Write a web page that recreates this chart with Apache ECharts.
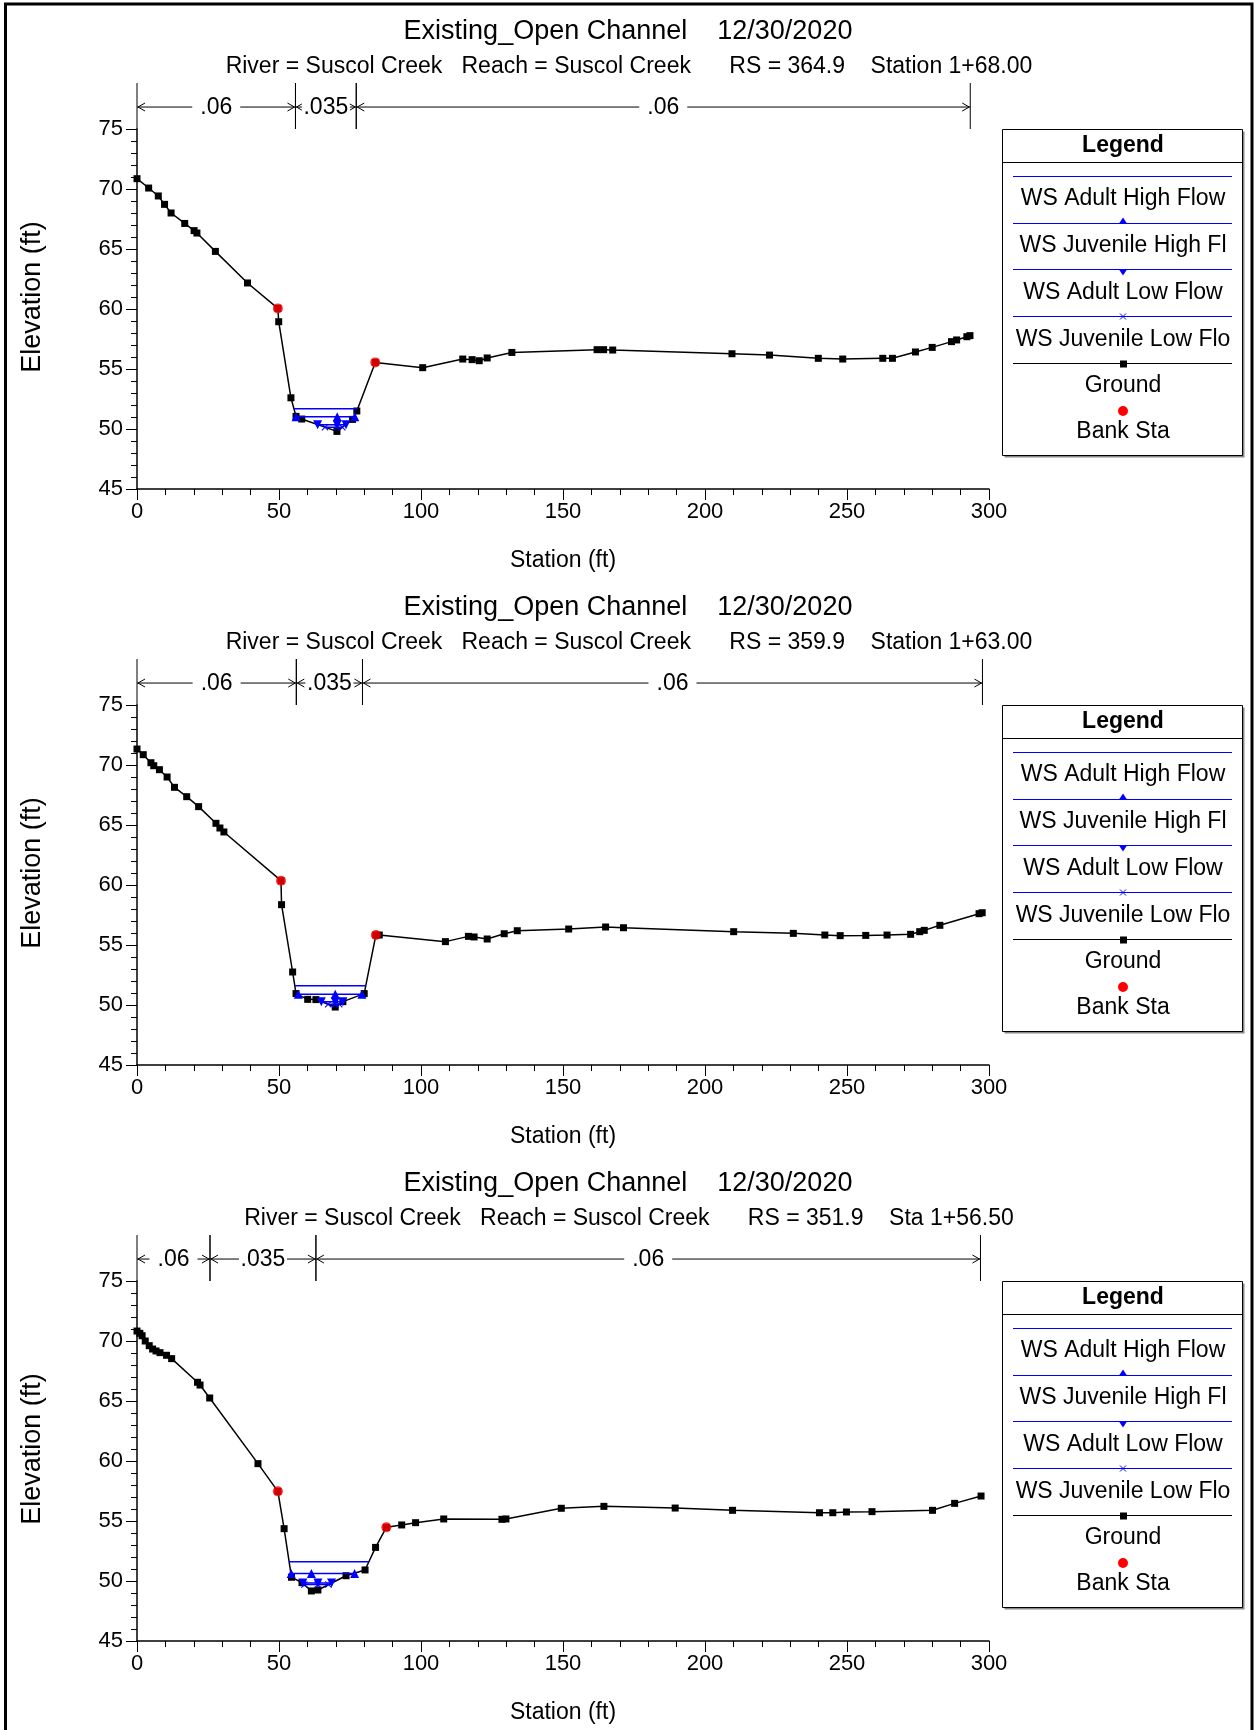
<!DOCTYPE html>
<html>
<head>
<meta charset="utf-8">
<script src="https://cdn.jsdelivr.net/npm/echarts@6/dist/echarts.min.js"></script>
<style>
html,body{margin:0;padding:0;background:#fff;}
#chart{width:1255px;height:1730px;}
</style>
</head>
<body>
<div id="chart"></div>
<script>
var mainTitle = 'Existing_Open Channel    12/30/2020';
var subTitles = [
	'River = Suscol Creek   Reach = Suscol Creek      RS = 364.9    Station 1+68.00',
	'River = Suscol Creek   Reach = Suscol Creek      RS = 359.9    Station 1+63.00',
	'River = Suscol Creek   Reach = Suscol Creek      RS = 351.9    Sta 1+56.50'
];
var legendNames = ['WS Adult High Flow', 'WS Juvenile High Fl', 'WS Adult Low Flow', 'WS Juvenile Low Flo', 'Ground', 'Bank Sta'];

//RS 364.9
var ground1 = [[0,70.86],[4.1,70.08],[7.5,69.42],[9.7,68.72],[12.0,68.0],[16.8,67.13],[20.1,66.53],[21.1,66.33],[27.6,64.8],[38.9,62.17],[49.6,60.05],[49.9,58.94],[54.2,52.6],[56.0,51.05],[58.0,50.83],[70.4,49.8],[75.9,50.8],[77.4,51.5],[83.9,55.55],[100.6,55.11],[114.7,55.83],[118.0,55.78],[120.5,55.69],[123.3,55.92],[132.0,56.38],[162.0,56.61],[164.3,56.61],[167.5,56.58],[209.5,56.27],[222.7,56.16],[239.9,55.89],[248.5,55.83],[262.6,55.89],[266.0,55.89],[274.1,56.42],[280.0,56.8],[286.8,57.28],[288.6,57.42],[292.2,57.69],[293.3,57.78]];
var adultHigh1 = [[55.3,51.69],[77.6,51.69]];
var juvHigh1 = [[56.0,51.02],[70.5,51.02],[76.7,51.02]];
var adultLow1 = [[63.6,50.35],[70.5,50.35],[73.6,50.35]];
var juvLow1 = [[66.2,50.15],[70.4,50.15],[72.3,50.15]];
var bank1 = [[49.6,60.05],[83.9,55.55]];
var nBreaks1 = [0, 55.8, 77.2, 293.4];

//RS 359.9
var ground2 = [[0,71.33],[2.2,70.86],[4.9,70.19],[5.9,69.94],[7.9,69.61],[10.6,69.0],[13.2,68.14],[17.5,67.36],[21.7,66.53],[27.8,65.14],[29.2,64.75],[30.6,64.42],[50.7,60.36],[50.9,58.36],[54.8,52.75],[56.0,50.95],[60.1,50.47],[63.0,50.45],[69.8,49.83],[72.5,50.28],[80.0,50.95],[84.1,55.83],[85.3,55.83],[108.6,55.28],[116.7,55.72],[118.7,55.67],[123.3,55.5],[129.3,55.94],[133.9,56.19],[152.0,56.33],[165.0,56.5],[171.3,56.44],[210.1,56.11],[231.1,55.97],[242.2,55.83],[247.6,55.78],[256.6,55.8],[264.1,55.83],[272.4,55.89],[275.6,56.11],[277.2,56.22],[282.7,56.64],[296.5,57.61],[297.6,57.69]];
var adultHigh2 = [[55.6,51.61],[80.5,51.61]];
var juvHigh2 = [[56.8,50.9],[69.8,50.9],[79.2,50.9]];
var adultLow2 = [[64.9,50.28],[69.8,50.28],[72.5,50.28]];
var juvLow2 = [[67.3,50.06],[69.8,50.06],[71.2,50.06]];
var bank2 = [[50.7,60.36],[84.1,55.83]];
var nBreaks2 = [0, 56.1, 79.4, 297.7];

//RS 351.9
var ground3 = [[0,70.83],[1.0,70.64],[1.8,70.44],[2.9,70.0],[4.3,69.61],[5.5,69.33],[6.7,69.17],[8.1,69.03],[10.4,68.81],[12.2,68.53],[21.3,66.56],[22.2,66.33],[25.6,65.25],[42.6,59.78],[49.6,57.47],[51.8,54.36],[54.4,50.31],[58.1,49.86],[61.4,49.17],[63.7,49.25],[73.6,50.44],[80.3,50.92],[84.0,52.8],[87.8,54.47],[93.2,54.67],[98.1,54.86],[108.0,55.17],[128.5,55.14],[129.9,55.17],[149.4,56.06],[164.4,56.22],[189.5,56.08],[209.7,55.89],[240.3,55.69],[245.0,55.69],[249.8,55.75],[258.8,55.78],[280.1,55.89],[287.9,56.47],[297.2,57.08]];
var adultHigh3 = [[53.6,51.61],[81.7,51.61]];
var juvHigh3 = [[54.3,50.62],[61.4,50.62],[76.6,50.62]];
var adultLow3 = [[58.4,49.83],[63.7,49.83],[68.5,49.83]];
var juvLow3 = [[58.9,49.7],[63.7,49.7],[67.4,49.7]];
var bank3 = [[49.6,57.47],[87.8,54.47]];
var nBreaks3 = [0, 25.7, 63.0, 297.0];

var nValues = ['.06', '.035', '.06'];

var panels = [
	{sub: subTitles[0], ground: ground1, ah: adultHigh1, jh: juvHigh1, al: adultLow1, jl: juvLow1, bank: bank1, nb: nBreaks1},
	{sub: subTitles[1], ground: ground2, ah: adultHigh2, jh: juvHigh2, al: adultLow2, jl: juvLow2, bank: bank2, nb: nBreaks2},
	{sub: subTitles[2], ground: ground3, ah: adultHigh3, jh: juvHigh3, al: adultLow3, jl: juvLow3, bank: bank3, nb: nBreaks3}
];

var FONT = '"Liberation Sans", Arial, sans-serif';
var BLUE = '#0000ff';
var crossPath = 'path://M0,1L1,0L5,4L9,0L10,1L6,5L10,9L9,10L5,6L1,10L0,9L4,5Z';
var yArrow = 76.83, yTopN = 78.83;

function blk() {
	return {stroke: '#000', lineWidth: 1, fill: null};
}

//糙率分区标注
function nRender(labels) {
	return function(params, api) {
		var x0 = api.value(0), x1 = api.value(1);
		var a = api.coord([x0, yArrow]), b = api.coord([x1, yArrow]);
		var t0 = api.coord([x0, yTopN]), f0 = api.coord([x0, 75]);
		var t1 = api.coord([x1, yTopN]), f1 = api.coord([x1, 75]);
		return {
			type: 'group',
			children: [
				{type: 'line', shape: {x1: a[0], y1: a[1], x2: b[0], y2: b[1]}, style: blk()},
				{type: 'polyline', shape: {points: [[a[0] + 8, a[1] - 4], [a[0] + 1, a[1]], [a[0] + 8, a[1] + 4]]}, style: blk()},
				{type: 'polyline', shape: {points: [[b[0] - 8, b[1] - 4], [b[0] - 1, b[1]], [b[0] - 8, b[1] + 4]]}, style: blk()},
				{type: 'line', shape: {x1: t0[0], y1: t0[1], x2: f0[0], y2: f0[1]}, style: blk()},
				{type: 'line', shape: {x1: t1[0], y1: t1[1], x2: f1[0], y2: f1[1]}, style: blk()},
				{type: 'rect', shape: {x: (a[0] + b[0]) / 2 - 24, y: a[1] - 10, width: 48, height: 20}, style: {fill: '#fff'}},
				{type: 'text', style: {
					text: labels[params.dataIndex], x: (a[0] + b[0]) / 2, y: a[1] + 1,
					align: 'center', verticalAlign: 'middle', fill: '#000',
					font: '23px ' + FONT
				}}
			]
		};
	};
}

//图例框
function legendGraphics(T) {
	var cx = 1123, lx0 = 1013, lx1 = 1232;
	var g = [];
	g.push({type: 'rect', shape: {x: 1004.5, y: T + 2.5, width: 240, height: 326}, style: {fill: '#888'}, z: 10});
	g.push({type: 'rect', shape: {x: 1002.5, y: T + 0.5, width: 240, height: 326}, style: {fill: '#fff', stroke: '#000', lineWidth: 1}, z: 10});
	g.push({type: 'line', shape: {x1: 1002.5, y1: T + 33.5, x2: 1242.5, y2: T + 33.5}, style: {stroke: '#000', lineWidth: 1}, z: 11});
	g.push({type: 'text', style: {text: 'Legend', x: cx, y: T + 17, align: 'center', verticalAlign: 'middle', font: 'bold 23px ' + FONT, fill: '#000'}, z: 11});
	var lineYs = [47, 94, 140, 187, 234];
	var textYs = [70, 117, 164, 211, 257];
	for (var k = 0; k < 5; k++) {
		var col = k < 4 ? BLUE : '#000';
		g.push({type: 'line', shape: {x1: lx0, y1: T + lineYs[k] + 0.5, x2: lx1, y2: T + lineYs[k] + 0.5}, style: {stroke: col, lineWidth: 1}, z: 11});
		g.push({type: 'text', style: {text: legendNames[k], x: cx, y: T + textYs[k], align: 'center', verticalAlign: 'middle', font: '23px ' + FONT, fill: '#000'}, z: 11});
	}
	var y1 = T + lineYs[1] + 0.5, y2 = T + lineYs[2] + 0.5, y3 = T + lineYs[3] + 0.5, y4 = T + lineYs[4] + 0.5;
	g.push({type: 'polygon', shape: {points: [[cx - 4, y1], [cx + 4, y1], [cx, y1 - 6]]}, style: {fill: BLUE}, z: 12});
	g.push({type: 'polygon', shape: {points: [[cx - 4, y2], [cx + 4, y2], [cx, y2 + 6]]}, style: {fill: BLUE}, z: 12});
	g.push({type: 'line', shape: {x1: cx - 3, y1: y3 - 3, x2: cx + 3, y2: y3 + 3}, style: {stroke: BLUE, lineWidth: 1}, z: 12});
	g.push({type: 'line', shape: {x1: cx - 3, y1: y3 + 3, x2: cx + 3, y2: y3 - 3}, style: {stroke: BLUE, lineWidth: 1}, z: 12});
	g.push({type: 'rect', shape: {x: cx - 3, y: y4 - 3, width: 7, height: 7}, style: {fill: '#000'}, z: 12});
	g.push({type: 'circle', shape: {cx: cx, cy: T + 282, r: 5}, style: {fill: '#ff0000'}, z: 12});
	g.push({type: 'text', style: {text: legendNames[5], x: cx, y: T + 303, align: 'center', verticalAlign: 'middle', font: '23px ' + FONT, fill: '#000'}, z: 11});
	return g;
}

function buildOption(safe) {
	var grids = [], xAxes = [], yAxes = [], series = [], elements = [];
	for (var i = 0; i < panels.length; i++) {
		var p = panels[i];
		var top = 129 + i * 576;
		grids.push({left: 137, top: top, width: 852, height: 360});
		var xa = {
			gridIndex: i, type: 'value', min: 0, max: 300, interval: 50,
			axisLine: {show: true, onZero: false, lineStyle: {color: '#000', width: 1.5}},
			axisTick: {show: true, length: 11, lineStyle: {color: '#000', width: 1}},
			splitLine: {show: false},
			axisLabel: {color: '#000', fontSize: 22, fontFamily: FONT, margin: 12}
		};
		var ya = {
			gridIndex: i, type: 'value', min: 45, max: 75, interval: 5,
			axisLine: {show: true, onZero: false, lineStyle: {color: '#000', width: 1.5}},
			axisTick: {show: true, length: 11, lineStyle: {color: '#000', width: 1}},
			splitLine: {show: false},
			axisLabel: {color: '#000', fontSize: 22, fontFamily: FONT, margin: 14}
		};
		if (!safe) {
			xa.minorTick = {show: true, splitNumber: 5, length: 6, lineStyle: {color: '#000', width: 1}};
			ya.minorTick = {show: true, splitNumber: 5, length: 6, lineStyle: {color: '#000', width: 1}};
			xa.name = 'Station (ft)'; xa.nameLocation = 'middle'; xa.nameGap = 60;
			xa.nameTextStyle = {color: '#000', fontSize: 23, fontFamily: FONT};
		}
		xAxes.push(xa);
		yAxes.push(ya);

		series.push({
			name: legendNames[4], type: 'line', xAxisIndex: i, yAxisIndex: i, data: p.ground,
			symbol: 'rect', symbolSize: 7,
			lineStyle: {color: '#000', width: 1.5}, itemStyle: {color: '#000'}, z: 3
		});
		series.push({
			name: legendNames[0], type: 'line', xAxisIndex: i, yAxisIndex: i, data: p.ah,
			symbol: 'none', lineStyle: {color: BLUE, width: 1.5}, z: 4
		});
		series.push({
			name: legendNames[1], type: 'line', xAxisIndex: i, yAxisIndex: i, data: p.jh,
			symbol: 'triangle', symbolSize: 9, lineStyle: {color: BLUE, width: 1.5}, itemStyle: {color: BLUE}, z: 4
		});
		series.push({
			name: legendNames[2], type: 'line', xAxisIndex: i, yAxisIndex: i, data: p.al,
			symbol: 'triangle', symbolRotate: 180, symbolSize: 9, lineStyle: {color: BLUE, width: 1.5}, itemStyle: {color: BLUE}, z: 4
		});
		series.push({
			name: legendNames[3], type: 'line', xAxisIndex: i, yAxisIndex: i, data: p.jl,
			symbol: crossPath, symbolSize: 7, lineStyle: {color: BLUE, width: 1.5}, itemStyle: {color: BLUE}, z: 4
		});
		series.push({
			name: legendNames[5], type: 'scatter', xAxisIndex: i, yAxisIndex: i, data: p.bank,
			symbol: 'circle', symbolSize: 10, itemStyle: {color: '#ff0000'}, z: 5
		});

		var regions = [];
		for (var k = 0; k < p.nb.length - 1; k++) {
			regions.push([p.nb[k], p.nb[k + 1], yArrow]);
		}
		series.push({
			type: 'custom', xAxisIndex: i, yAxisIndex: i, clip: false, silent: true,
			renderItem: nRender(nValues), data: regions
		});

		elements.push({type: 'text', style: {text: mainTitle, x: 628, y: 32 + i * 576, align: 'center', verticalAlign: 'middle', font: '27px ' + FONT, fill: '#000'}});
		elements.push({type: 'text', style: {text: p.sub, x: 629, y: 67 + i * 576, align: 'center', verticalAlign: 'middle', font: '23px ' + FONT, fill: '#000'}});
		elements.push({type: 'text', x: 33, y: 297 + i * 576, rotation: Math.PI / 2,
			style: {text: 'Elevation (ft)', x: 0, y: 0, align: 'center', verticalAlign: 'middle', font: '27px ' + FONT, fill: '#000'}});
		if (safe) {
			elements.push({type: 'text', style: {text: 'Station (ft)', x: 563, y: 561 + i * 576, align: 'center', verticalAlign: 'middle', font: '23px ' + FONT, fill: '#000'}});
		}
		elements = elements.concat(legendGraphics(top));
	}
	//外框
	elements.push({type: 'rect', shape: {x: 5.5, y: 4, width: 1246.5, height: 1800}, style: {fill: null, stroke: '#000', lineWidth: 3}, z: 20});
	return {
		animation: false,
		backgroundColor: '#fff',
		grid: grids,
		xAxis: xAxes,
		yAxis: yAxes,
		series: series,
		graphic: {elements: elements}
	};
}

var dom = document.getElementById('chart');
var chart = echarts.init(dom);
try {
	chart.setOption(buildOption(false));
} catch (e) {
	chart.dispose();
	chart = echarts.init(dom);
	chart.setOption(buildOption(true));
}
</script>
</body>
</html>
